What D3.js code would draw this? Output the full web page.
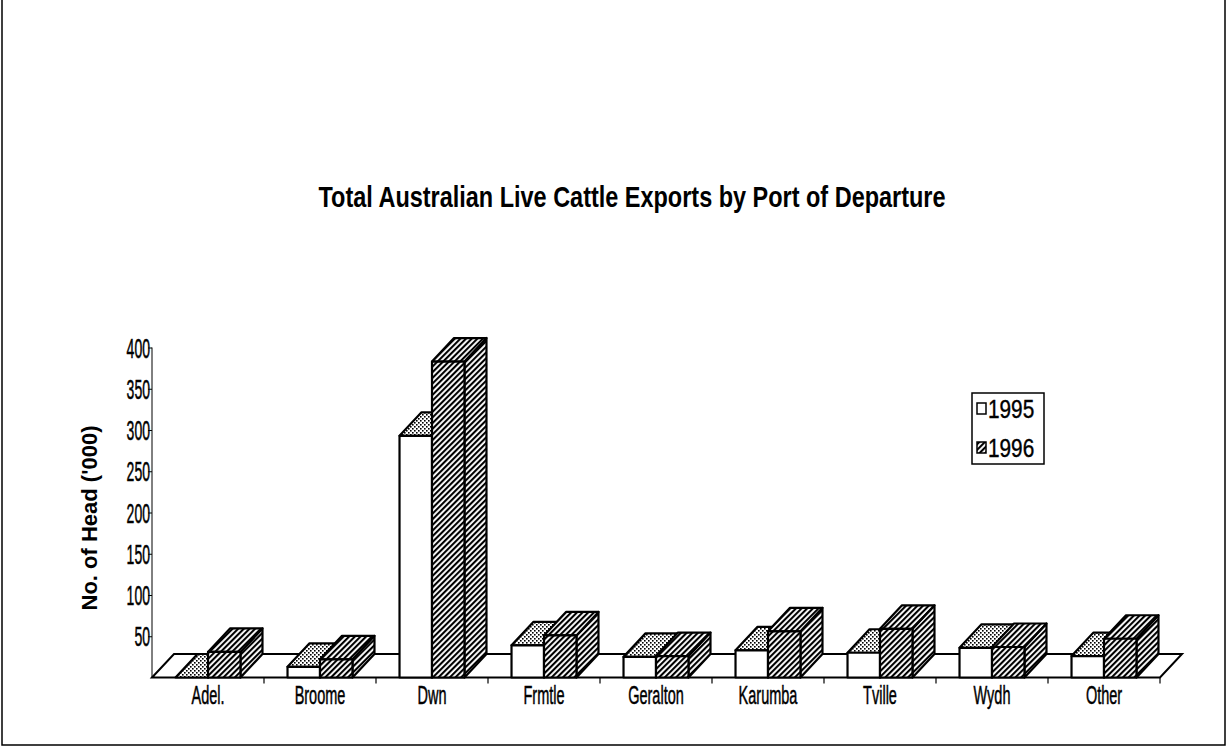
<!DOCTYPE html>
<html><head><meta charset="utf-8">
<script src="https://cdn.jsdelivr.net/npm/d3@7"></script>
<style>body{margin:0;background:#fff}svg{display:block}</style>
</head><body>
<svg id="c" width="1229" height="748"></svg>
<script>
const categories = ["Adel.","Broome","Dwn","Frmtle","Geralton","Karumba","Tville","Wydh","Other"];
const seriesNames = ["1995","1996"];
const values1995 = [0,13,293,39,25,33,30,36,26];
const values1996 = [31,22,383,51,26,56,59,37,47];
const yTicks = [50,100,150,200,250,300,350,400];
const titleText = "Total Australian Live Cattle Exports by Port of Departure";
const yLabel = "No. of Head ('000)";

const svg = d3.select("#c");
const FONT = "'Liberation Sans', Arial, sans-serif";

// frame
svg.append("path").attr("d", "M2,0 V745 H1225 V0").attr("fill","none").attr("stroke","#000").attr("stroke-width",1.5);

// patterns
const defs = svg.append("defs");
const hatch = defs.append("pattern").attr("id","hatch").attr("patternUnits","userSpaceOnUse")
  .attr("width",4).attr("height",4).attr("patternTransform","rotate(45)");
hatch.append("rect").attr("width",4).attr("height",4).attr("fill","#fff");
hatch.append("line").attr("x1",1).attr("x2",1).attr("y1",0).attr("y2",4).attr("stroke","#000").attr("stroke-width",2.2);
const dots = defs.append("pattern").attr("id","dots").attr("patternUnits","userSpaceOnUse")
  .attr("width",4).attr("height",4);
dots.append("rect").attr("width",4).attr("height",4).attr("fill","#fff");
dots.append("rect").attr("x",0).attr("y",0).attr("width",1.6).attr("height",1.6).attr("fill","#000");
dots.append("rect").attr("x",2).attr("y",2).attr("width",1.6).attr("height",1.6).attr("fill","#000");

// scales
const xLeft = 152, xRight = 1160, yBase = 677.5, yTopPx = 347.5;
const DX = 22, DY = -23.5;
const x = d3.scaleBand().domain(categories).range([xLeft, xRight]).padding(0);
const y = d3.scaleLinear().domain([0,400]).range([yBase, yTopPx]);
const barW = x.bandwidth() * 0.29;

// title
svg.append("text").attr("x",632).attr("y",207).attr("text-anchor","middle")
  .attr("font-family",FONT).attr("font-weight","bold").attr("font-size",30)
  .attr("textLength",627).attr("lengthAdjust","spacingAndGlyphs").text(titleText);

// floor
svg.append("path")
  .attr("d", `M${xLeft},${yBase} L${xLeft+DX},${yBase+DY} L${xRight+DX},${yBase+DY} L${xRight},${yBase} Z`)
  .attr("fill","#fff").attr("stroke","#000").attr("stroke-width",2);

// category ticks at band boundaries
svg.append("g").selectAll("line").data(categories).join("line")
  .attr("x1", d => x(d) + x.bandwidth()).attr("x2", d => x(d) + x.bandwidth())
  .attr("y1", yBase).attr("y2", yBase+6).attr("stroke","#000").attr("stroke-width",1.2);

// y axis
const yAxis = d3.axisLeft(y).tickValues(yTicks).tickSize(4).tickFormat(d3.format("d"));
const ga = svg.append("g").attr("transform",`translate(${xLeft},0)`).call(yAxis);
ga.select(".domain").attr("d", `M0,${yTopPx}V${yBase}`).attr("stroke","#000").attr("stroke-width",1);
ga.selectAll(".tick line").attr("stroke","#000");
const sY = 0.52;
ga.selectAll(".tick text").attr("font-family",FONT).attr("font-size",27).attr("fill","#000")
  .attr("stroke","#000").attr("stroke-width",0.5)
  .attr("x", -2/sY).attr("dy","0.36em").attr("transform",`scale(${sY},1)`);

// y label
svg.append("text").attr("transform","translate(97,518) rotate(-90)").attr("text-anchor","middle")
  .attr("font-family",FONT).attr("font-weight","bold").attr("font-size",22).text(yLabel);

// x axis labels
const sX = 0.58;
const xAxis = d3.axisBottom(x).tickSize(0).tickPadding(0);
const gx = svg.append("g").attr("transform",`translate(0,${yBase})`).call(xAxis);
gx.select(".domain").remove();
gx.selectAll(".tick").attr("transform", d => `translate(${x(d)+x.bandwidth()/2},0)`);
gx.selectAll(".tick text").attr("font-family",FONT).attr("font-size",25).attr("fill","#000")
  .attr("stroke","#000").attr("stroke-width",0.5)
  .attr("dy",0).attr("y",27).attr("x",0).attr("transform",`scale(${sX},1)`);

// bars
const data = categories.map((c,i) => ({c, v: [values1995[i], values1996[i]]}));
const gb = svg.append("g");
data.forEach(d => {
  d.v.forEach((v,s) => {
    const bx = x(d.c) + x.bandwidth()/2 - barW + s*barW;
    const yt = y(v);
    const front = s === 0 ? "#fff" : "url(#hatch)";
    const top = s === 0 ? "url(#dots)" : "url(#hatch)";
    const side = s === 0 ? "#fff" : "url(#hatch)";
    const g = gb.append("g").attr("stroke","#000").attr("stroke-width",2.2).attr("stroke-linejoin","round");
    g.append("path").attr("d",`M${bx+barW},${yt} L${bx+barW+DX},${yt+DY} L${bx+barW+DX},${yBase+DY} L${bx+barW},${yBase} Z`).attr("fill",side);
    g.append("path").attr("d",`M${bx},${yt} L${bx+DX},${yt+DY} L${bx+barW+DX},${yt+DY} L${bx+barW},${yt} Z`).attr("fill",top);
    g.append("rect").attr("x",bx).attr("y",yt).attr("width",barW).attr("height",yBase-yt).attr("fill",front);
  });
});

// legend
const lg = svg.append("g");
lg.append("rect").attr("x",972).attr("y",393).attr("width",72).attr("height",71).attr("fill","#fff").attr("stroke","#000").attr("stroke-width",1.5);
seriesNames.forEach((n,i) => {
  const yy = 403 + i*39;
  lg.append("rect").attr("x",977).attr("y",yy).attr("width",9).attr("height",11)
    .attr("fill", i===0 ? "#fff" : "url(#hatch)").attr("stroke","#000").attr("stroke-width",1.5);
  lg.append("text").attr("transform",`translate(988,${yy+15}) scale(0.8,1)`).attr("font-family",FONT).attr("font-size",26)
    .attr("stroke","#000").attr("stroke-width",0.4).text(n);
});
</script>
</body></html>
